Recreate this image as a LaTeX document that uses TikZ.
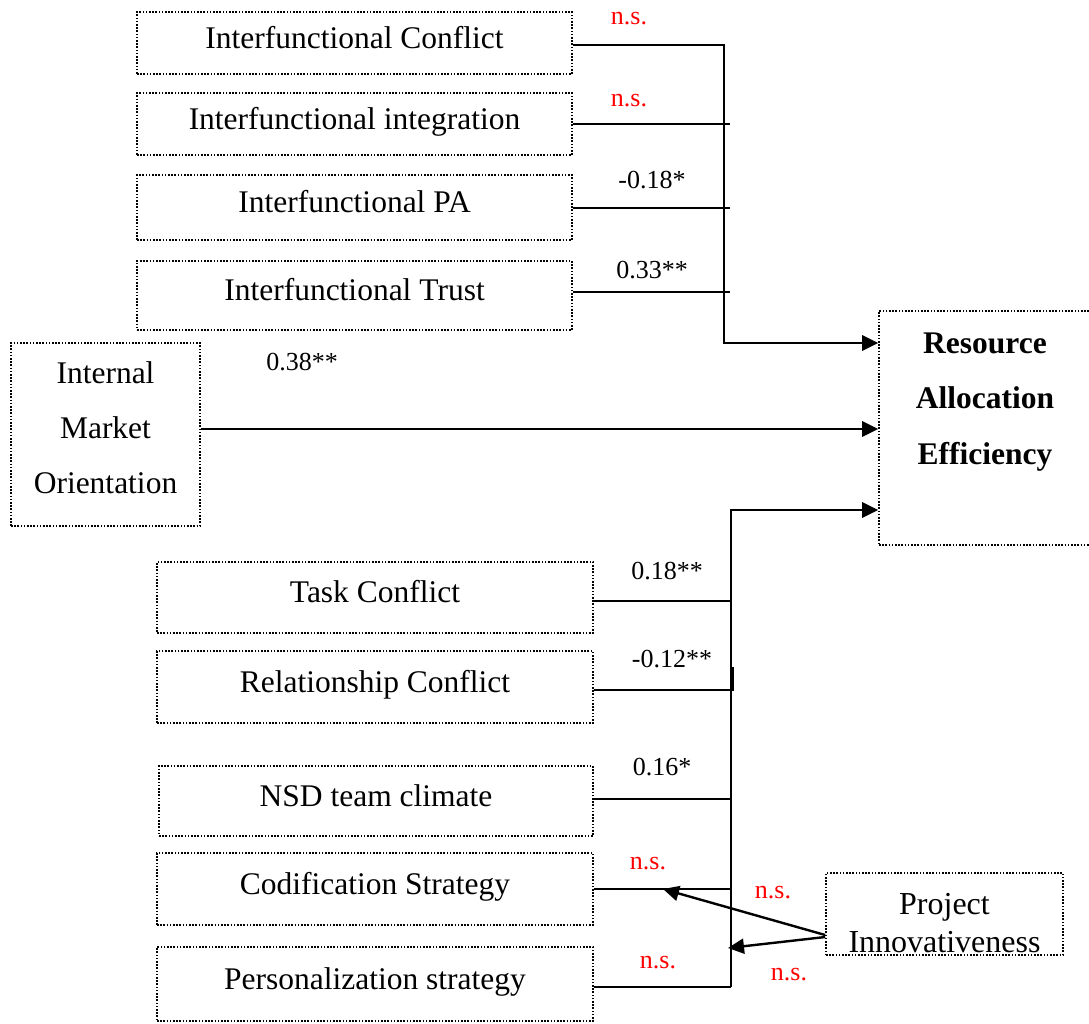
\documentclass[tikz,border=0pt]{standalone}
\usepackage{fontspec}
\setmainfont{Liberation Serif}
\usetikzlibrary{arrows.meta}
\begin{document}
\begin{tikzpicture}[x=1pt,y=-1pt,
  frame/.style={draw, dash pattern=on 1.6pt off 1.6pt, line width=1.6pt, inner sep=0pt},
  box/.style={frame, align=center, text height=22pt, text depth=12pt,
    font=\fontsize{31.5}{55}\selectfont},
  coef/.style={font=\fontsize{26}{30}\selectfont, inner sep=0pt},
  ns/.style={coef, text=red},
  lnk/.style={line width=1.8pt},
  lnkthick/.style={line width=2.8pt},
  tip/.style={-{Triangle[length=16pt,width=15pt]}}]
\useasboundingbox (0,0) rectangle (1089,1023);

% predictor boxes, upper group
\node[box, minimum width=435pt, minimum height=62pt] (ic) at (354.5,43) {Interfunctional Conflict};
\node[box, minimum width=435pt, minimum height=62pt] (ii) at (354.5,124) {Interfunctional integration};
\node[box, minimum width=435pt, minimum height=65pt] (pa) at (354.5,207.5) {Interfunctional PA};
\node[box, minimum width=435pt, minimum height=69pt] (it) at (354.5,295.5) {Interfunctional Trust};

% internal market orientation
\node[frame, minimum width=189pt, minimum height=183pt] (imo) at (105.5,434.5) {};
\node[font=\fontsize{31.5}{55}\selectfont, align=center, inner sep=0pt] (imotext) at (105.5,428) {Internal\\Market\\Orientation};

% outcome
\node[frame, minimum width=212pt, minimum height=234pt] (rae) at (985,428) {};
\node[font=\bfseries\fontsize{31.5}{55.5}\selectfont, align=center, inner sep=0pt] (raetext) at (985,402) {Resource\\Allocation\\Efficiency};

% predictor boxes, lower group
\node[box, minimum width=436pt, minimum height=71pt] (tc) at (375,597.5) {Task Conflict};
\node[box, minimum width=436pt, minimum height=72pt] (rc) at (375,687) {Relationship Conflict};
\node[box, minimum width=434pt, minimum height=70pt] (nsd) at (376,801) {NSD team climate};
\node[box, minimum width=436pt, minimum height=72pt] (cs) at (375,889) {Codification Strategy};
\node[box, minimum width=436pt, minimum height=74pt] (ps) at (375,984) {Personalization strategy};

% moderator
\node[frame, minimum width=237pt, minimum height=82pt] (pi) at (944.5,914) {};
\node[font=\fontsize{32}{38}\selectfont, align=center, inner sep=0pt] (pitext) at (944.5,923) {Project\\Innovativeness};

% bus coordinates
\coordinate (ua) at (724,45);
\coordinate (ub) at (724,343);
\coordinate (la) at (731,510);
\coordinate (lb) at (731,690);
\coordinate (lc) at (731,987);

% upper group connectors
\draw[lnkthick, tip] (ic.east |- ua) -- (ua) -- (ub) -- (rae.west |- ub);
\draw[lnk] (ii.east |- 0,124) -- (730,124);
\draw[lnk] (pa.east |- 0,208) -- (730,208);
\draw[line width=2.2pt] (it.east |- 0,292) -- (730,292);

% internal market orientation path
\draw[lnkthick, tip] (imo.east |- 0,429) -- (rae.west |- 0,429);

% lower group connectors
\draw[line width=2.2pt] (lc) -- (lb);
\draw[lnkthick, tip] (lb) -- (la) -- (rae.west |- la);
\draw[lnk] (tc.east |- 0,601) -- (731,601);
\draw[lnkthick] (rc.east |- lb) -- (733,690) -- (733,667);
\draw[lnk] (nsd.east |- 0,799) -- (731,799);
\draw[lnk] (cs.east |- 0,889) -- (731,889);
\draw[lnk] (ps.east |- lc) -- (lc);

% moderator arrows
\draw[line width=2.4pt, tip] (pi.west |- 0,935) -- (663,889);
\draw[line width=2.4pt, tip] (pi.west |- 0,937) -- (728,948);

% path coefficients
\node[ns] (c1) at (629,19) {n.s.};
\node[ns] (c2) at (629,101) {n.s.};
\node[coef] (c3) at (652,180) {-0.18*};
\node[coef] (c4) at (652,270) {0.33**};
\node[coef] (c5) at (302,362) {0.38**};
\node[coef] (c6) at (667,571) {0.18**};
\node[coef] (c7) at (672,659) {-0.12**};
\node[coef] (c8) at (662,767) {0.16*};
\node[ns] (c9) at (648,864) {n.s.};
\node[ns] (c10) at (773,893) {n.s.};
\node[ns] (c11) at (658,963) {n.s.};
\node[ns] (c12) at (789,975) {n.s.};
\end{tikzpicture}
\end{document}
